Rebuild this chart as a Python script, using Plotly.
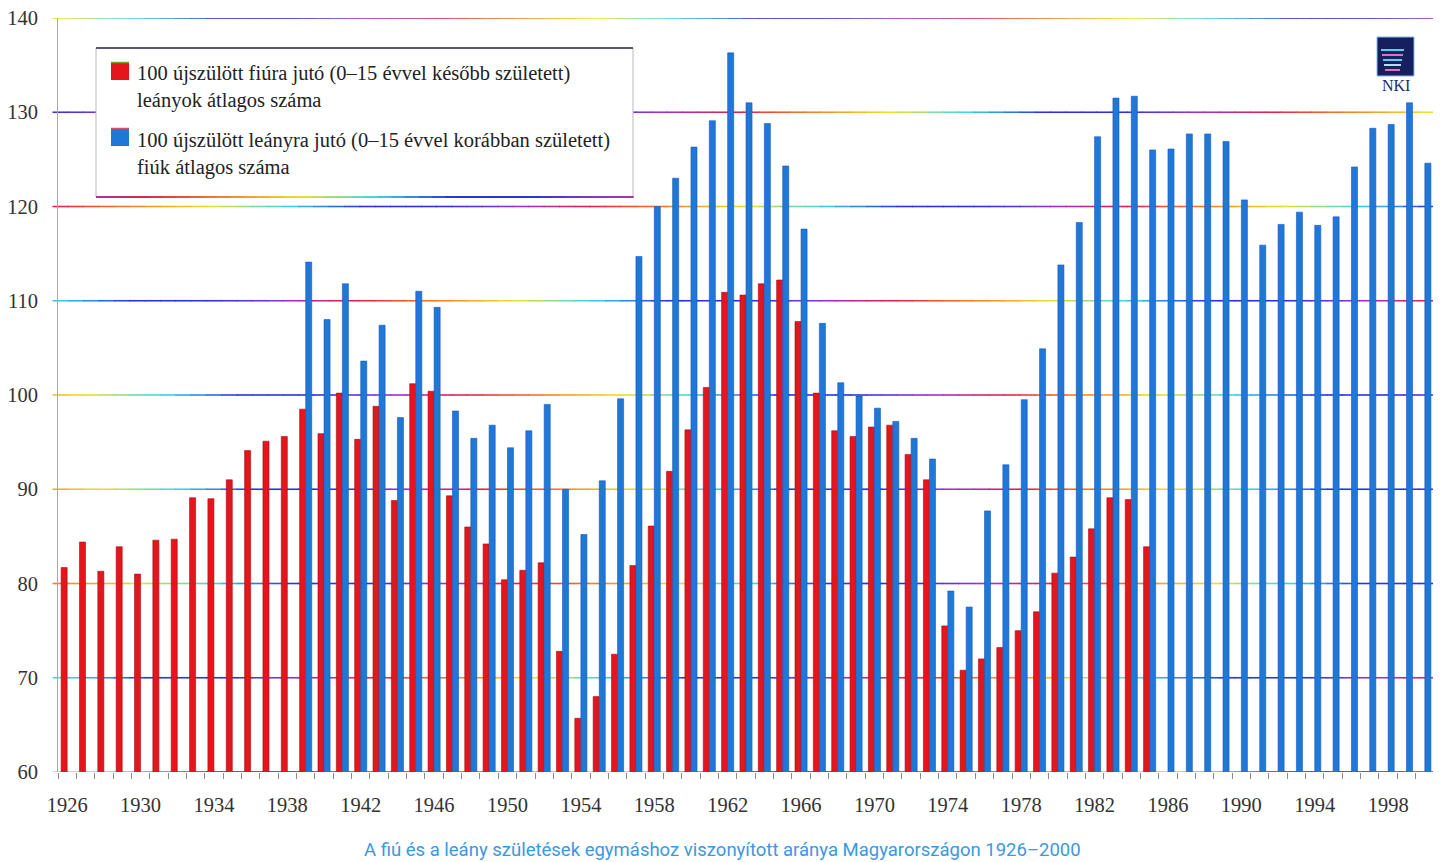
import plotly.graph_objects as go

# 1926-2000, one category per birth year
years = list(range(1926, 2001))

# girls (born 0-15 years later) per 100 newborn boys, 1926-1985
girls_per_100_boys = [
    81.7, 84.4, 81.3, 83.9, 81.0, 84.6, 84.7, 89.1, 89.0, 91.0,
    94.1, 95.1, 95.6, 98.5, 95.9, 100.2, 95.3, 98.8, 88.8, 101.2,
    100.4, 89.3, 86.0, 84.2, 80.4, 81.4, 82.2, 72.8, 65.7, 68.0,
    72.5, 81.9, 86.1, 91.9, 96.3, 100.8, 110.9, 110.6, 111.8, 112.2,
    107.8, 100.2, 96.2, 95.6, 96.6, 96.8, 93.7, 91.0, 75.5, 70.8,
    72.0, 73.2, 75.0, 77.0, 81.1, 82.8, 85.8, 89.1, 88.9, 83.9,
]

# boys (born 0-15 years earlier) per 100 newborn girls, 1939-2000
boys_per_100_girls = [
    114.1, 108.0, 111.8, 103.6, 107.4, 97.6, 111.0, 109.3, 98.3, 95.4,
    96.8, 94.4, 96.2, 99.0, 90.0, 85.2, 90.9, 99.6, 114.7, 120.0,
    123.0, 126.3, 129.1, 136.3, 131.0, 128.8, 124.3, 117.6, 107.6, 101.3,
    99.9, 98.6, 97.2, 95.4, 93.2, 79.2, 77.5, 87.7, 92.6, 99.5,
    104.9, 113.8, 118.3, 127.4, 131.5, 131.7, 126.0, 126.1, 127.7, 127.7,
    126.9, 120.7, 115.9, 118.1, 119.4, 118.0, 118.9, 124.2, 128.3, 128.7,
    131.0, 124.6,
]

y_ticks = [60, 70, 80, 90, 100, 110, 120, 130, 140]
x_ticks = list(range(1926, 2001, 4))

legend_red = "100 újszülött fiúra jutó (0–15 évvel később született)<br>leányok átlagos száma"
legend_blue = "100 újszülött leányra jutó (0–15 évvel korábban született)<br>fiúk átlagos száma"
caption = "A fiú és a leány születések egymáshoz viszonyított aránya Magyarországon 1926–2000"

red_y = girls_per_100_boys + [None] * (len(years) - len(girls_per_100_boys))
blue_y = [None] * (len(years) - len(boys_per_100_girls)) + boys_per_100_girls

RED = '#e2161c'
BLUE = '#1f78d6'
SERIF = 'Liberation Serif, Times New Roman, serif'

# plot area in page pixels; the page body has an 8px margin
W, H, OFF = 1441, 862, 8
L, R, T, B = 58, 1434, 18, 772


def px(x):
    return (x - L) / (R - L)


def py(y):
    return (B - y) / (B - T)


# the printed gridlines run through a rainbow
RAINBOW = [(240, 224, 40), (60, 214, 232), (40, 52, 222), (40, 52, 222),
           (150, 52, 210), (226, 36, 70), (242, 130, 40)]


def rainbow(t):
    t = (t % 1.0) * len(RAINBOW)
    i = int(t)
    f = t - i
    a = RAINBOW[i % len(RAINBOW)]
    b = RAINBOW[(i + 1) % len(RAINBOW)]
    c = [round(a[k] + (b[k] - a[k]) * f) for k in range(3)]
    return 'rgb(%d,%d,%d)' % tuple(c)


def rainbow_line(y0, x0, x1, yref='y', phase=0.0, n=90, width=1.6, period=0.39):
    segs = []
    step = (x1 - x0) / n
    for k in range(n):
        a = x0 + k * step
        segs.append(dict(
            type='line', xref='paper', yref=yref,
            x0=a, x1=a + step * 1.05, y0=y0, y1=y0,
            line=dict(color=rainbow(phase + (a + step / 2) / period), width=width),
            layer='below',
        ))
    return segs


fig = go.Figure()

fig.add_trace(go.Bar(
    x=years, y=red_y, name=legend_red,
    marker=dict(color=RED, line=dict(color='#a80e12', width=0.6)),
    showlegend=False,
))
fig.add_trace(go.Bar(
    x=years, y=blue_y, name=legend_blue,
    marker=dict(color=BLUE, line=dict(color='#1656c4', width=0.6)),
    showlegend=False,
))

shapes = []
phases = [0.0, 0.12, 0.85, 0.92, 0.95, 0.15, 0.72, 0.45, 0.0]
for v, ph in zip(y_ticks, phases):
    shapes += rainbow_line(v, -0.004, 1.0, phase=ph)

# legend box
shapes.append(dict(type='rect', xref='paper', yref='paper',
                   x0=px(96), x1=px(633), y0=py(197), y1=py(48),
                   fillcolor='white', line=dict(color='#b8b8b8', width=1), layer='below'))
shapes.append(dict(type='line', xref='paper', yref='paper',
                   x0=px(96), x1=px(633), y0=py(48), y1=py(48),
                   line=dict(color='#2a2a55', width=1.5), layer='below'))
shapes += rainbow_line(py(197), px(96), px(633), yref='paper', phase=0.55, n=40, width=2)

# legend swatches
shapes.append(dict(type='rect', xref='paper', yref='paper',
                   x0=px(111), x1=px(129), y0=py(80), y1=py(62),
                   fillcolor=RED, line=dict(width=0)))
shapes.append(dict(type='line', xref='paper', yref='paper',
                   x0=px(111), x1=px(129), y0=py(62.5), y1=py(62.5),
                   line=dict(color='#7aa020', width=1.5)))
shapes.append(dict(type='rect', xref='paper', yref='paper',
                   x0=px(111), x1=px(129), y0=py(146), y1=py(128),
                   fillcolor=BLUE, line=dict(width=0)))
shapes.append(dict(type='line', xref='paper', yref='paper',
                   x0=px(111), x1=px(129), y0=py(128.5), y1=py(128.5),
                   line=dict(color='#e05050', width=1.5)))

# NKI logo
shapes.append(dict(type='rect', xref='paper', yref='paper',
                   x0=px(1377), x1=px(1414), y0=py(76), y1=py(37),
                   fillcolor='#17205e', line=dict(color='#8cb8e6', width=1)))
for i, c in enumerate(['#5ad0e8', '#e070c0', '#5ad0e8', '#b0e0f0', '#e070c0']):
    shapes.append(dict(type='line', xref='paper', yref='paper',
                       x0=px(1381 + i), x1=px(1404 - i), y0=py(50 + i * 5), y1=py(50 + i * 5),
                       line=dict(color=c, width=2)))

annotations = [
    dict(xref='paper', yref='paper', x=px(135), y=py(60), text=legend_red,
         showarrow=False, xanchor='left', yanchor='top', align='left',
         font=dict(family=SERIF, size=20.5, color='#222')),
    dict(xref='paper', yref='paper', x=px(135), y=py(127), text=legend_blue,
         showarrow=False, xanchor='left', yanchor='top', align='left',
         font=dict(family=SERIF, size=20.5, color='#222')),
    dict(xref='paper', yref='paper', x=px(1396), y=py(86), text='NKI',
         showarrow=False, xanchor='center', yanchor='middle',
         font=dict(family=SERIF, size=16, color='#1a2a78')),
    dict(xref='paper', yref='paper', x=px(722), y=py(850), text=caption,
         showarrow=False, xanchor='center', yanchor='middle',
         font=dict(family='Liberation Sans Narrow, Roboto, sans-serif', size=18.5, color='#3a98e0')),
]

fig.update_layout(
    barmode='group',
    bargap=0.34,
    bargroupgap=0,
    shapes=shapes,
    annotations=annotations,
    xaxis=dict(
        range=[1925.5, 2000.5],
        tickmode='array', tickvals=x_ticks,
        ticks='outside', ticklen=14, tickcolor='rgba(0,0,0,0)',
        showgrid=False, zeroline=False, showline=False,
        tickfont=dict(family=SERIF, size=20.5, color='#333'),
        ticklabeloverflow='allow', automargin=False,
        minor=dict(tick0=1925.5, dtick=1, ticks='outside', ticklen=6,
                   tickcolor='#8a8a8a', tickwidth=1, showgrid=False),
    ),
    yaxis=dict(
        range=[60, 140],
        tickmode='array', tickvals=y_ticks,
        ticks='outside', ticklen=15, tickcolor='rgba(0,0,0,0)',
        showgrid=False, zeroline=False,
        showline=True, linecolor='#a8a8a8', linewidth=1, mirror=True,
        tickfont=dict(family=SERIF, size=20.5, color='#333'),
        ticklabeloverflow='allow', automargin=False,
    ),
    plot_bgcolor='white',
    paper_bgcolor='white',
    showlegend=False,
    margin=dict(l=L - OFF, r=W - R, t=T - OFF, b=H - B, autoexpand=False),
    width=W - OFF,
    height=H - OFF,
)

fig.write_html("out.html")
